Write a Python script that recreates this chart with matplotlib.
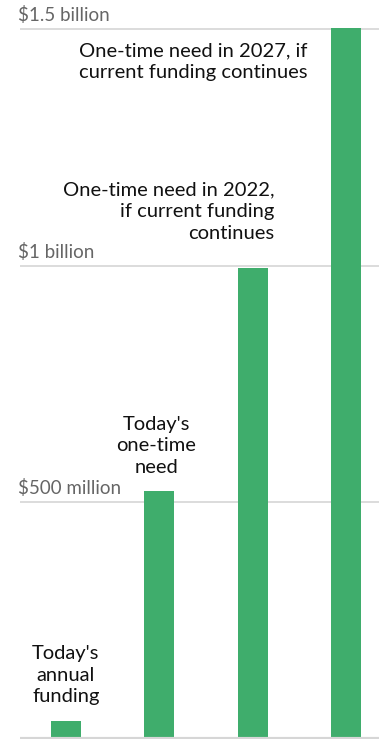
import matplotlib.pyplot as plt
import matplotlib.transforms as mtransforms

plt.rcParams['font.family'] = ['Lato', 'DejaVu Sans']

# values in millions of dollars
categories = ["annual", "need_today", "need_2022", "need_2027"]
values = [38, 523, 996, 1502]
tick_values = [500, 1000, 1500]
tick_labels = ["$500 million", "$1 billion", "$1.5 billion"]
notes = ["Today's\nannual\nfunding",
         "Today's\none-time\nneed",
         "One-time need in 2022,\nif current funding\ncontinues",
         "One-time need in 2027, if\ncurrent funding continues"]

W, H = 379, 741
fig = plt.figure(figsize=(W / 100, H / 100), dpi=100)
ax = fig.add_axes([20 / W, 2 / H, 359 / W, 737 / H])

green = "#3fad6c"
x = list(range(len(values)))
ax.bar(x, values, width=0.32, color=green, zorder=3)

ax.set_xlim(-0.49, 3.35)
ax.set_ylim(0, 1500 * 737 / 710)

for t in tick_values:
    ax.axhline(t, color="#dcdcdc", linewidth=1.4, zorder=1)
ax.axhline(0, color="#d6d6d6", linewidth=3, zorder=4)

for s in ax.spines.values():
    s.set_visible(False)
ax.set_xticks([])
ax.set_yticks([])

# tick labels sit above the gridlines at the left edge
trans = mtransforms.blended_transform_factory(fig.transFigure, ax.transData)
off = mtransforms.offset_copy(trans, fig=fig, x=0, y=8, units="dots")
for t, lab in zip(tick_values, tick_labels):
    ax.text(18 / W, t, lab, transform=off, ha="left", va="baseline",
            fontsize=13.5, color="#666666")

# annotations: (x, y of last baseline, alignment)
note_pos = [(0.0, 78, "center"), (0.965, 563, "center"),
            (2.23, 1057, "right"), (2.58, 1397, "right")]
for txt, (nx, ny, ha) in zip(notes, note_pos):
    ax.text(nx, ny, txt, ha=ha, va="baseline", multialignment=ha,
            fontsize=14.5, color="#111111", linespacing=1.32)

fig.savefig("out.png", dpi=100)
